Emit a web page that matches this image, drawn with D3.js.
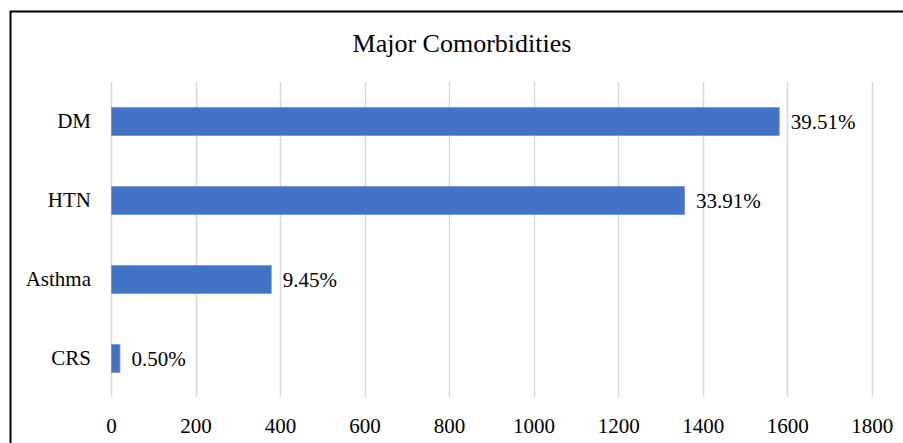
<!DOCTYPE html>
<html>
<head>
<meta charset="utf-8">
<script src="https://cdn.jsdelivr.net/npm/d3@7"></script>
<style>
  body { margin: 0; background: #fff; }
  text { font-family: "Liberation Serif", "Times New Roman", serif; fill: #000; }
</style>
</head>
<body>
<div class="chart"></div>
<script>
// data
var categories = ["DM", "HTN", "Asthma", "CRS"];
var counts = [1580, 1356, 378, 20];
var percentLabels = ["39.51%", "33.91%", "9.45%", "0.50%"];
var tickValues = [0, 200, 400, 600, 800, 1000, 1200, 1400, 1600, 1800];

var W = 903, H = 443;
var plot = { left: 111, right: 871.7, top: 82, bottom: 398 };

var svg = d3.select(".chart")
    .append("svg")
    .attr("width", W)
    .attr("height", H);

// outer frame (cropped on right and bottom)
svg.append("rect")
    .attr("x", 10.5)
    .attr("y", 11.5)
    .attr("width", W + 20)
    .attr("height", H + 20)
    .attr("fill", "none")
    .attr("stroke", "#000")
    .attr("stroke-width", 2);

// title
svg.append("text")
    .attr("x", 462)
    .attr("y", 52)
    .attr("text-anchor", "middle")
    .style("font-size", "26px")
    .text("Major Comorbidities");

var x = d3.scaleLinear()
    .domain([0, 1800])
    .range([plot.left, plot.right]);

var y = d3.scaleBand()
    .domain(categories)
    .range([plot.top, plot.bottom])
    .paddingInner(0.645)
    .paddingOuter(0.3225);

// vertical gridlines
svg.append("g")
    .selectAll("line")
    .data(tickValues)
    .enter().append("line")
    .attr("x1", function (d) { return Math.round(x(d)) + 0.5; })
    .attr("x2", function (d) { return Math.round(x(d)) + 0.5; })
    .attr("y1", plot.top)
    .attr("y2", plot.bottom - 1)
    .attr("stroke", "#d9d9d9")
    .attr("stroke-width", 1.5);

// x axis labels
var xAxis = svg.append("g")
    .attr("transform", "translate(0," + plot.bottom + ")")
    .call(d3.axisBottom(x).tickValues(tickValues).tickFormat(d3.format("d")).tickSize(0).tickPadding(20));
xAxis.select(".domain").remove();
xAxis.selectAll("text")
    .style("font-size", "21px")
    .attr("fill", "#000")
    .attr("font-family", "Liberation Serif, Times New Roman, serif");

// y axis labels
var yAxis = svg.append("g")
    .attr("transform", "translate(" + plot.left + ",0)")
    .call(d3.axisLeft(y).tickSize(0).tickPadding(20));
yAxis.select(".domain").remove();
yAxis.selectAll("text")
    .style("font-size", "21px")
    .attr("fill", "#000")
    .attr("font-family", "Liberation Serif, Times New Roman, serif");

// bars
svg.selectAll(".bar")
    .data(categories)
    .enter().append("rect")
    .attr("class", "bar")
    .attr("x", x(0) + 0.5)
    .attr("y", function (d) { return y(d); })
    .attr("width", function (d, i) { return x(counts[i]) - x(0); })
    .attr("height", y.bandwidth())
    .attr("fill", "#4472c4")
    .attr("stroke", "#6f93d3")
    .attr("stroke-width", 0.75);

// value labels
svg.selectAll(".lbl")
    .data(categories)
    .enter().append("text")
    .attr("class", "lbl")
    .attr("x", function (d, i) { return x(counts[i]) + 12; })
    .attr("y", function (d) { return y(d) + y.bandwidth() / 2 + 7; })
    .style("font-size", "21px")
    .text(function (d, i) { return percentLabels[i]; });
</script>
</body>
</html>
